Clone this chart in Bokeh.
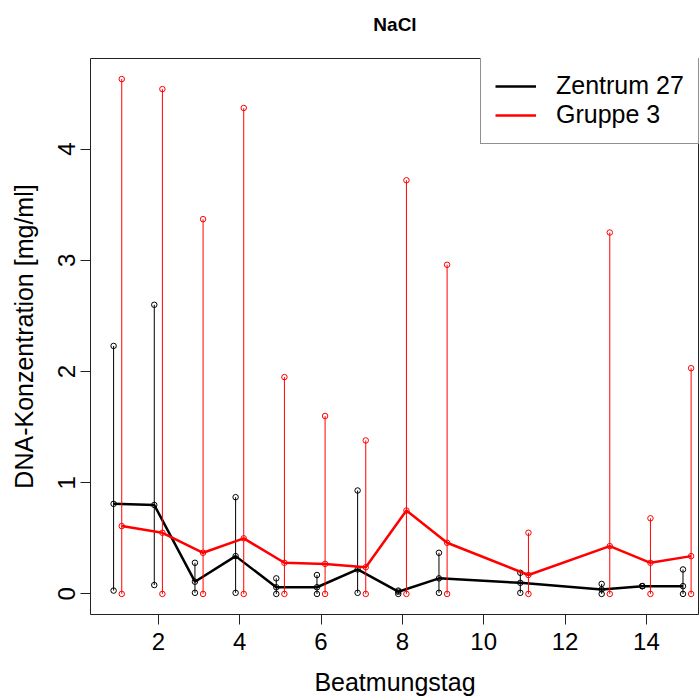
from bokeh.plotting import figure
from bokeh.models import Range1d, FixedTicker, Legend, LegendItem, ColumnDataSource
from bokeh.embed import file_html
from bokeh.resources import INLINE

# ---- data ----
days = [1, 2, 3, 4, 5, 6, 7, 8, 9, 11, 13, 14, 15]
z27_mean = [0.81, 0.80, 0.11, 0.34, 0.06, 0.06, 0.22, 0.02, 0.14, 0.10, 0.04, 0.07, 0.07]
z27_hi = [2.23, 2.60, 0.28, 0.87, 0.14, 0.17, 0.93, 0.03, 0.37, 0.19, 0.09, 0.07, 0.22]
z27_lo = [0.03, 0.08, 0.01, 0.01, 0.00, 0.00, 0.01, 0.00, 0.01, 0.01, 0.00, 0.07, 0.00]
g3_mean = [0.61, 0.55, 0.37, 0.50, 0.28, 0.27, 0.24, 0.75, 0.46, 0.17, 0.43, 0.28, 0.34]
g3_hi = [4.63, 4.54, 3.37, 4.37, 1.95, 1.60, 1.38, 3.72, 2.96, 0.55, 3.25, 0.68, 2.03]
g3_lo = [0.0] * 13
x_ticks = [2, 4, 6, 8, 10, 12, 14]
y_ticks = [0, 1, 2, 3, 4]
series_names = ["Zentrum 27", "Gruppe 3"]
title_text = "NaCl"
x_label = "Beatmungstag"
y_label = "DNA-Konzentration [mg/ml]"

FONT = "Liberation Sans"

p = figure(width=699, height=696, frame_width=609, frame_height=556,
           min_border_left=90, min_border_right=0, min_border_top=58, min_border_bottom=82,
           x_range=Range1d(0.332, 15.306), y_range=Range1d(-0.185, 4.815),
           output_backend="svg", toolbar_location=None,
           background_fill_color="white", border_fill_color="white")

# trailing empty line lifts the title towards the top edge
p.title.text = title_text + "\n"
p.title.align = "center"
p.title.vertical_align = "bottom"
p.title.text_font = FONT
p.title.text_font_size = "19px"
p.title.text_font_style = "bold"
p.title.text_color = "black"
p.title.standoff = 6

p.grid.visible = False
p.outline_line_color = "#222222"
p.outline_line_width = 1

for ax in (p.xaxis[0], p.yaxis[0]):
    ax.axis_line_color = None
    ax.major_tick_line_color = "#222222"
    ax.major_tick_out = 10
    ax.major_tick_in = 0
    ax.minor_tick_line_color = None
    ax.major_label_text_font = FONT
    ax.major_label_text_font_size = "24px"
    ax.major_label_text_color = "black"
    ax.axis_label_text_font = FONT
    ax.axis_label_text_font_size = "25px"
    ax.axis_label_text_font_style = "normal"
    ax.axis_label_text_color = "black"

p.xaxis.ticker = FixedTicker(ticks=x_ticks)
p.yaxis.ticker = FixedTicker(ticks=y_ticks)
p.xaxis.axis_label = x_label
p.yaxis.axis_label = y_label
p.xaxis.major_label_standoff = 8
p.xaxis.axis_label_standoff = 15
p.yaxis.major_label_orientation = "vertical"
p.yaxis.major_label_standoff = 5
p.yaxis.axis_label_standoff = 18

items = []
for name, mean, hi, lo, col, off in [
    (series_names[0], z27_mean, z27_hi, z27_lo, "black", -0.1),
    (series_names[1], g3_mean, g3_hi, g3_lo, "#FF0000", 0.1),
]:
    xs = [d + off for d in days]
    src = ColumnDataSource(dict(x=xs, mean=mean, hi=hi, lo=lo))
    p.segment(x0="x", y0="lo", x1="x", y1="hi", source=src, line_color=col, line_width=1)
    r = p.line(x="x", y="mean", source=src, line_color=col, line_width=2.5)
    for col_name in ("hi", "lo", "mean"):
        p.scatter(x="x", y=col_name, source=src, marker="circle", size=5.5,
                  fill_color=None, line_color=col, line_width=1)
    items.append(LegendItem(label=name, renderers=[r]))

legend = Legend(items=items, location=(390, 470),
                label_text_font=FONT, label_text_font_size="25px", label_text_color="black",
                glyph_width=41, glyph_height=28, label_height=28,
                label_standoff=20, spacing=0, padding=14, margin=0,
                border_line_color="#222222", border_line_width=1,
                background_fill_color="white", background_fill_alpha=1)
p.add_layout(legend, "center")

open("out.html", "w").write(file_html(p, INLINE))
